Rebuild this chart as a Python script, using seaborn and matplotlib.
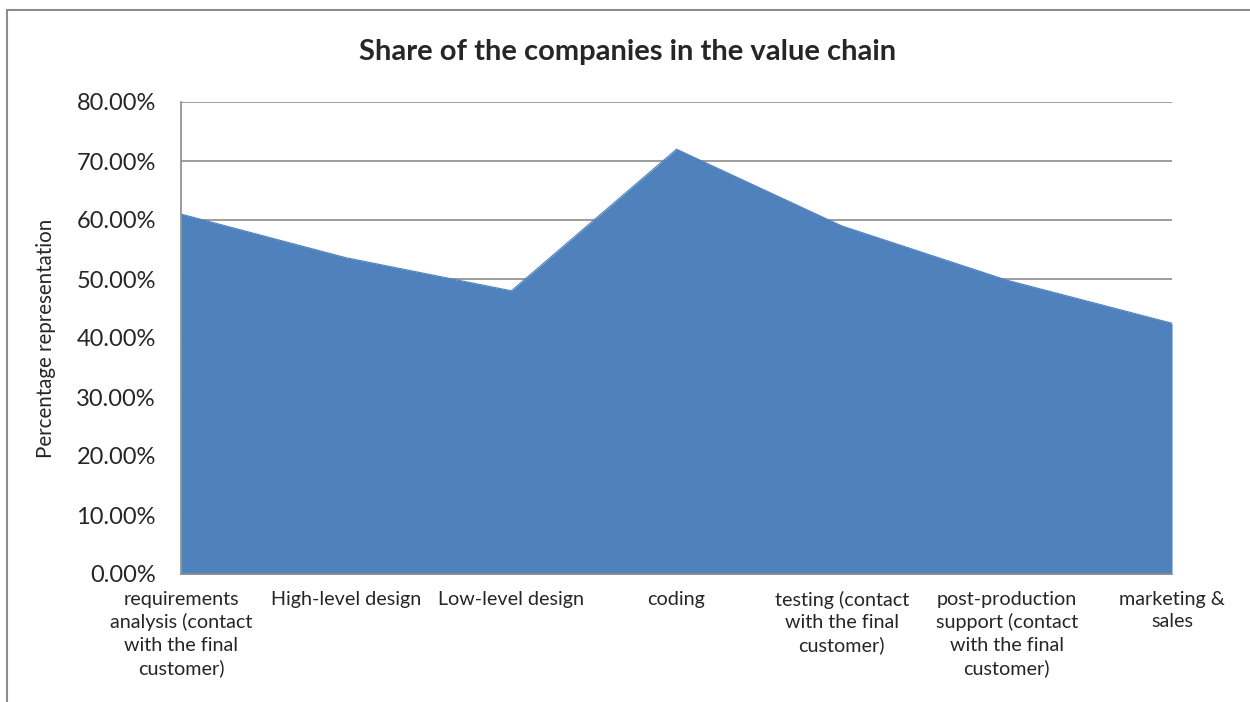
import numpy as np
import pandas as pd
import matplotlib
matplotlib.use("Agg")
import matplotlib.pyplot as plt
import seaborn as sns
from matplotlib.patches import Rectangle
from matplotlib.ticker import FuncFormatter

categories = [
    "requirements\nanalysis (contact\nwith the final\ncustomer)",
    "High-level design",
    "Low-level design",
    "coding",
    "testing (contact\nwith the final\ncustomer)",
    "post-production\nsupport (contact\nwith the final\ncustomer)",
    "marketing &\nsales",
]
share = [0.610, 0.536, 0.480, 0.720, 0.590, 0.498, 0.425]

df = pd.DataFrame({"pos": range(len(categories)), "share": share})

sns.set_style("white")
plt.rcParams["font.family"] = ["Lato", "DejaVu Sans"]

blue = "#4F81BD"
grid_c = "#8C8C8C"

fig = plt.figure(figsize=(12.5, 7.02), dpi=100)
ax = fig.add_axes([181 / 1250, 1 - 574 / 702, (1172 - 181) / 1250, (574 - 102) / 702])

# outer chart frame
fig.patches.append(Rectangle((7 / 1250, -0.05), 1.1, 1 - 10 / 702 + 0.05,
                             transform=fig.transFigure, fill=False,
                             edgecolor="#8C8C8C", linewidth=1.5, zorder=0))

ax.fill_between(df["pos"], 0, df["share"], color=blue, linewidth=0, zorder=2)
sns.lineplot(data=df, x="pos", y="share", ax=ax, color=blue, linewidth=0.8, zorder=3)

ax.set_xlim(0, len(categories) - 1)
ax.set_ylim(0, 0.8)
ax.set_yticks(np.arange(0, 0.81, 0.1))
ax.yaxis.set_major_formatter(FuncFormatter(lambda v, p: f"{v * 100:.2f}%"))
ax.set_xticks(range(len(categories)))
ax.set_xticklabels(categories, fontsize=14.2, linespacing=1.38, va="top")
ax.tick_params(axis="y", labelsize=17, length=0, pad=18)
ax.tick_params(axis="x", length=0, pad=12)

ax.grid(axis="y", color=grid_c, linewidth=1.2, zorder=1)
ax.set_axisbelow(True)
for s in ["top", "right"]:
    ax.spines[s].set_visible(False)
for s in ["left", "bottom"]:
    ax.spines[s].set_color(grid_c)
    ax.spines[s].set_linewidth(1.2)
    ax.spines[s].set_zorder(4)

ax.set_xlabel("")
ax.set_ylabel("Percentage representation", fontsize=14.8)
ax.yaxis.set_label_coords((56 - 181) / (1172 - 181), 0.5)
fig.text(628 / 1250, 1 - 52 / 702, "Share of the companies in the value chain",
         ha="center", va="center", fontsize=21, fontweight="bold")

fig.savefig("out.png", dpi=100)
